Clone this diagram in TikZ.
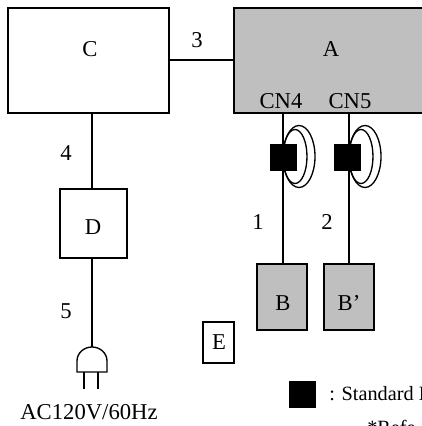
\documentclass[tikz,border=0pt]{standalone}
\usepackage{fontspec}
\setmainfont{Liberation Serif}
\usepackage{tikz}
\usetikzlibrary{arrows.meta}
\tikzset{
 box/.style={draw,line width=1pt,inner sep=0pt},
 grayb/.style={box,fill=black!25},
 blk/.style={fill=black,inner sep=0pt,minimum width=20.25pt,minimum height=20.25pt},
 txt/.style={inner sep=0pt,font=\fontsize{17}{18}\selectfont},
 small/.style={inner sep=0pt,anchor=west,font=\fontsize{15.2}{16}\selectfont},
 wire/.style={line width=1pt}
}
\begin{document}
\begin{tikzpicture}[x=0.75pt,y=-0.75pt]
 \useasboundingbox (0,0) rectangle (422,426);
 \clip (0,0) rectangle (422,426);

 \node [box,minimum width=120.75pt,minimum height=78.75pt] (C) at (88.5,60.5) {}; % C
 \node [grayb,minimum width=145.5pt,minimum height=78.75pt] (A) at (331,60.5) {}; % A
 \node [box,minimum width=50.25pt,minimum height=51.75pt] (D) at (93.5,223.5) {}; % D
 \node [grayb,minimum width=37.5pt,minimum height=49.5pt] (B) at (282,297) {}; % B
 \node [grayb,minimum width=37.5pt,minimum height=49.5pt] (Bp) at (349,297) {}; % B'
 \node [box,minimum width=23.25pt,minimum height=30.75pt] (E) at (218.5,342.5) {}; % E

 \node [txt] (tC) at (90,49) {C};
 \node [txt] (tA) at (331,49) {A};
 \node [txt] (tD) at (93,227) {D};
 \node [txt] (tB) at (283,303) {B};
 \node [txt] (tBp) at (349,303) {B’};
 \node [txt] (tE) at (219,342) {E};
 \node [txt] (tCN4) at (281,101) {CN4};
 \node [txt] (tCN5) at (350,101) {CN5};
 \node [txt] (n3) at (197,40) {3};
 \node [txt] (n4) at (66,153) {4};
 \node [txt] (n5) at (66,311) {5};
 \node [txt] (n1) at (258,222) {1};
 \node [txt] (n2) at (327,222) {2};

 \coordinate (P) at (92,347); % top of the plug

 \draw [wire] (C.east |- 0,60) -- (A.west |- 0,60);
 \draw [wire] (C.south -| P) -- (D.north -| P);
 \draw [wire] (D.south -| P) -- (P);

 \draw [wire] (P) .. controls (84,347) and (77,353) .. (77,361) -- (77,372) -- (107,372) -- (107,361) .. controls (107,353) and (100,347) .. (P);
 \draw [wire] (84,372) -- (84,389);
 \draw [wire] (98,372) -- (98,389);

 \coordinate (S4) at (283,156.5);
 \coordinate (S5) at (349,156.5);
 \draw [wire] (S4 |- A.south) -- (S4 |- B.north);
 \draw [wire] (S5 |- A.south) -- (S5 |- Bp.north);
 \foreach \s in {S4,S5}{
  \draw [wire] ([xshift=12pt]\s) ellipse [x radius=12pt,y radius=23.25pt];
  \draw [wire] ([xshift=9pt]\s) ellipse [x radius=9pt,y radius=20.25pt];
 }
 \node [blk] (K4) at (283.5,157.5) {};
 \node [blk] (K5) at (347.5,157.5) {};

 \node [blk] (K) at (302.5,394.5) {};
 \node [small] (tK) at (329,394) {: Standard H};
 \node [small] (tR) at (367,427) {*Refe};
 \node [txt] (tAC) at (89,412) {AC120V/60Hz};
\end{tikzpicture}
\end{document}
